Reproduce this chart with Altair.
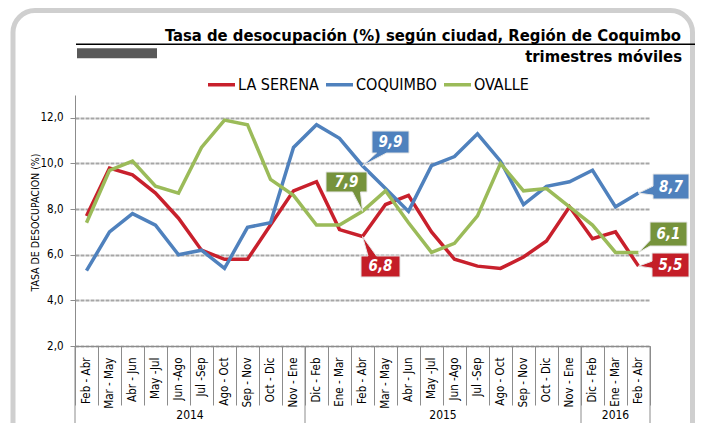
import json
import altair as alt
import pandas as pd

# ---------------- data ----------------
periods = ["Feb - Abr", "Mar - May", "Abr - Jun", "May -Jul", "Jun -Ago", "Jul -Sep",
           "Ago - Oct", "Sep - Nov", "Oct - Dic", "Nov - Ene",
           "Dic - Feb", "Ene - Mar", "Feb - Abr", "Mar - May", "Abr - Jun", "May -Jul",
           "Jun -Ago", "Jul -Sep", "Ago - Oct", "Sep - Nov", "Oct - Dic", "Nov - Ene",
           "Dic - Feb", "Ene - Mar", "Feb - Abr"]
years = ["2014", "2015", "2016"]
year_counts = [10, 12, 3]

cities = ["LA SERENA", "COQUIMBO", "OVALLE"]
la_serena = [7.7, 9.8, 9.5, 8.7, 7.6, 6.2, 5.8, 5.8, 7.3, 8.8, 9.2, 7.1, 6.8,
             8.2, 8.6, 7.0, 5.8, 5.5, 5.4, 5.9, 6.6, 8.1, 6.7, 7.0, 5.5]
coquimbo = [5.3, 7.0, 7.8, 7.3, 6.0, 6.2, 5.4, 7.2, 7.4, 10.7, 11.7, 11.1, 9.9,
            8.9, 7.9, 9.9, 10.3, 11.3, 10.1, 8.2, 9.0, 9.2, 9.7, 8.1, 8.7]
ovalle = [7.4, 9.7, 10.1, 9.0, 8.7, 10.7, 11.9, 11.7, 9.3, 8.6, 7.3, 7.3, 7.9,
          8.8, 7.4, 6.1, 6.5, 7.7, 10.0, 8.8, 8.9, 8.1, 7.3, 6.1, 6.1]

title_line1 = "Tasa de desocupación (%) según ciudad, Región de Coquimbo"
title_line2 = "trimestres móviles"
y_title = "TASA DE DESOCUPACION (%)"

# labelled points: (city, period index)
callouts = [("COQUIMBO", 12), ("OVALLE", 12), ("LA SERENA", 12),
            ("COQUIMBO", 24), ("OVALLE", 24), ("LA SERENA", 24)]

# ---------------- styles ----------------
NARROW = "Liberation Sans Narrow, Arial Narrow, DejaVu Sans Condensed, sans-serif"
line_colors = ["#C8202C", "#4F81BD", "#9BBB59"]
box_colors = {"LA SERENA": "#C41E28", "COQUIMBO": "#4F81BD", "OVALLE": "#76933C"}
AX = "#8C8C8C"
# callout geometry (pixel offsets relative to the labelled point): path, text dx, dy
callout_geom = [
    ("M0,0L14,-12.7L9.5,-12.7L9.5,-34.7L46.5,-34.7L46.5,-12.7L24,-12.7Z", 28, -23.7),
    ("M0,0L-2,-19.4L4.5,-19.4L4.5,-39.4L-36.5,-39.4L-36.5,-19.4L-10,-19.4Z", -16, -29.4),
    ("M0,0L14,19.5L37.5,19.5L37.5,40.5L-1.5,40.5L-1.5,19.5L5.5,19.5Z", 18, 30),
    ("M0,0L14.5,2L14.5,5.9L50.5,5.9L50.5,-19.1L14.5,-19.1L14.5,-7Z", 32.5, -6.6),
    ("M0,0L11.5,-6.4L48.5,-6.4L48.5,-30.4L11.5,-30.4L11.5,-12Z", 30, -18.4),
    ("M0,0L13.5,-5L13.5,-13.1L50.5,-13.1L50.5,10.9L13.5,10.9L13.5,2Z", 32, -1.1),
]

W, H = 575, 251
n = len(periods)

rows = []
for city, vals in zip(cities, [la_serena, coquimbo, ovalle]):
    for i, v in enumerate(vals):
        rows.append({"idx": i, "periodo": periods[i], "ciudad": city, "valor": v})
df = pd.DataFrame(rows)

one = pd.DataFrame({"k": [0]})

band = alt.Scale(type="band", domain=list(range(n)), paddingInner=0, paddingOuter=0)
yscale = alt.Scale(domain=[2, 13], nice=False, zero=False)

x_axis = alt.Axis(
    labelExpr=json.dumps(periods) + "[datum.value]",
    labelAngle=270, labelAlign="right", labelBaseline="middle",
    labelPadding=-48, tickBand="extent", tickSize=59, tickColor=AX, tickWidth=1,
    domainColor=AX, domainWidth=1, labelFont=NARROW, labelFontSize=11.5,
    labelColor="black", grid=False, title=None, labelOverlap=False, labelBound=False,
)
y_axis = alt.Axis(
    values=[2, 4, 6, 8, 10, 12],
    labelExpr="replace(format(datum.value, '.1f'), '.', ',')",
    title=y_title, titleFont=NARROW, titleFontSize=10.5, titleFontWeight="normal",
    titleColor="black", titleX=-40, titleY=127, titleAngle=270, titleAlign="center",
    titleBaseline="middle", tickSize=5, tickColor=AX, labelPadding=7,
    domainColor=AX, labelFont=NARROW, labelFontSize=11.5, labelColor="black",
    gridColor="#A6A6A6", gridWidth=2, gridDash=[4, 1],
)

X_main = alt.X("idx:O", scale=band, axis=x_axis, bandPosition=0.5)
X_noaxis = alt.X("idx:O", scale=band, axis=None, bandPosition=0.5)
Y_main = alt.Y("valor:Q", scale=yscale, axis=y_axis)

# ---------------- frame & title ----------------
frame = alt.Chart(one).mark_rect(
    cornerRadius=22, fillOpacity=0, stroke="#CFCFCF", strokeWidth=5
).encode(x=alt.value(-62), x2=alt.value(617.5), y=alt.value(-84.5), y2=alt.value(360))

t1 = alt.Chart(one).mark_text(
    text=title_line1, font=NARROW, fontSize=16.5, fontWeight="bold", align="right",
    baseline="alphabetic", color="black"
).encode(x=alt.value(606), y=alt.value(-54))
t2 = alt.Chart(one).mark_text(
    text=title_line2, font=NARROW, fontSize=16.5, fontWeight="bold", align="right",
    baseline="alphabetic", color="black"
).encode(x=alt.value(607), y=alt.value(-33))
underline = alt.Chart(one).mark_rule(color="black", strokeWidth=1.5).encode(
    x=alt.value(1), x2=alt.value(625), y=alt.value(-50.7))
graybar = alt.Chart(one).mark_rect(color="#595959").encode(
    x=alt.value(2), x2=alt.value(82), y=alt.value(-46.7), y2=alt.value(-36.7))

# ---------------- lines ----------------
lines = alt.Chart(df).mark_line(strokeWidth=3.5).encode(
    x=X_main, y=Y_main,
    color=alt.Color("ciudad:N", scale=alt.Scale(domain=cities, range=line_colors),
                    legend=alt.Legend(orient="none", legendX=131, legendY=-26,
                                      direction="horizontal", title=None,
                                      symbolType="stroke", symbolSize=729,
                                      symbolStrokeWidth=3.5, labelFont=NARROW,
                                      labelFontSize=16, labelColor="black",
                                      columnPadding=0, labelOffset=1, padding=0)),
    order="idx:O",
)

# ---------------- callouts ----------------
callout_layers = []
for (city, i), (path, tdx, tdy) in zip(callouts, callout_geom):
    base = alt.Chart(df).transform_filter(
        (alt.datum.ciudad == city) & (alt.datum.idx == i)
    ).transform_calculate(lbl="replace(format(datum.valor, '.1f'), '.', ',')")
    box = base.mark_point(shape=path, size=4, filled=True, fill=box_colors[city],
                          stroke="#E6E6E6", strokeWidth=1, opacity=1).encode(
        x=X_noaxis, y=Y_main)
    txt = base.mark_text(dx=tdx, dy=tdy, font=NARROW, fontSize=15, fontWeight="bold",
                         fontStyle="italic", color="white", align="center",
                         baseline="middle").encode(x=X_noaxis, y=Y_main, text="lbl:N")
    callout_layers += [box, txt]

# ---------------- year groups ----------------
bounds = [0]
for c in year_counts:
    bounds.append(bounds[-1] + c)
ydf = pd.DataFrame({"pos": bounds})
mids = pd.DataFrame({"year": years,
                     "mid": [(bounds[k] + bounds[k + 1]) / 2 for k in range(len(years))]})
qscale = alt.Scale(domain=[0, n], nice=False, zero=False)
year_rules = alt.Chart(ydf).mark_rule(color=AX, strokeWidth=1).encode(
    x=alt.X("pos:Q", scale=qscale, axis=None), y=alt.value(H), y2=alt.value(345))
year_text = alt.Chart(mids).mark_text(font=NARROW, fontSize=12, color="black",
                                      baseline="middle").encode(
    x=alt.X("mid:Q", scale=qscale, axis=None), y=alt.value(320), text="year:N")

chart = alt.layer(
    frame, underline, graybar, t1, t2, lines, *callout_layers, year_rules, year_text
).resolve_scale(x="independent").properties(
    width=W, height=H,
    autosize=alt.AutoSizeParams(type="none"),
    padding={"left": 67, "top": 87, "right": 45, "bottom": 77},
    background="white",
).configure_view(stroke=None)

chart.save("out.html", embed_options={"renderer": "svg", "actions": False})
